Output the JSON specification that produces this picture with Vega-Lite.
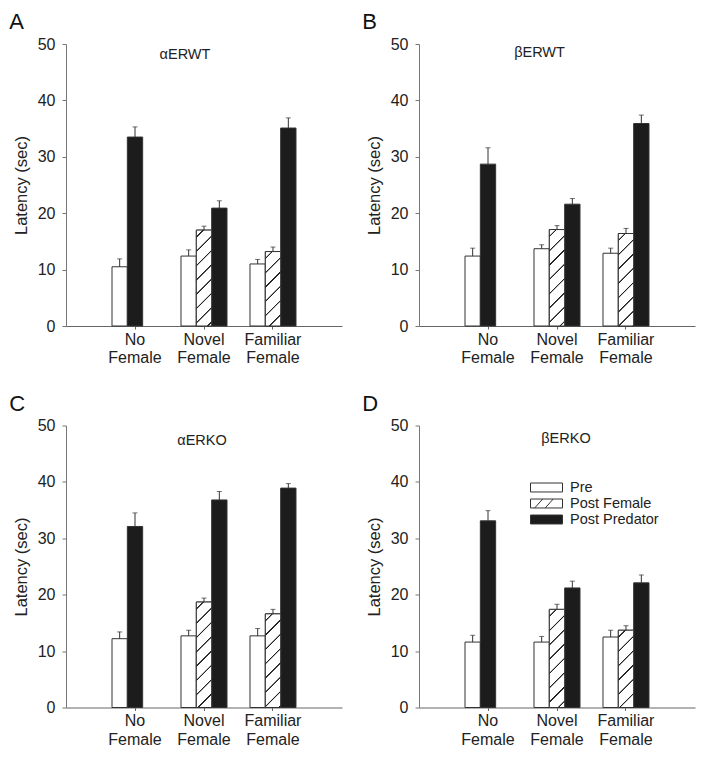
{
  "$schema": "https://vega.github.io/schema/vega-lite/v6.json",
  "padding": {"left": 9, "top": 11, "right": 5, "bottom": 5},
  "config": {
    "font": "Liberation Sans",
    "view": {"stroke": null},
    "title": {"fontSize": 22, "fontWeight": "normal", "anchor": "start", "frame": "bounds", "offset": 2, "dx": -4, "color": "#111"},
    "axisY": {"grid": false, "tickSize": 4, "labelPadding": 7, "domainColor": "#777", "tickColor": "#777", "labelFontSize": 16, "labelColor": "#222", "titleFontSize": 16.5, "titleFontWeight": "normal", "titleColor": "#222", "titlePadding": 8},
    "axisX": {"grid": false, "tickSize": 3, "labelPadding": 2, "labelAngle": 0, "domainColor": "#666", "tickColor": "#666", "labelFontSize": 16, "labelColor": "#222", "labelLineHeight": 18.5, "labelBaseline": "top"}
  },
  "spacing": {"row": 26.5, "column": 20},
  "columns": 2,
  "resolve": {"scale": {"fill": "independent", "shape": "independent"}},
  "datasets": {
    "A": [
      {"cond": "No Female", "series": "Pre", "mean": 10.5, "upper": 11.9},
      {"cond": "No Female", "series": "Post Predator", "mean": 33.5, "upper": 35.3},
      {"cond": "Novel Female", "series": "Pre", "mean": 12.4, "upper": 13.5},
      {"cond": "Novel Female", "series": "Post Female", "mean": 17.0, "upper": 17.7},
      {"cond": "Novel Female", "series": "Post Predator", "mean": 20.9, "upper": 22.2},
      {"cond": "Familiar Female", "series": "Pre", "mean": 11.0, "upper": 11.8},
      {"cond": "Familiar Female", "series": "Post Female", "mean": 13.2, "upper": 14.0},
      {"cond": "Familiar Female", "series": "Post Predator", "mean": 35.1, "upper": 36.9}
    ],
    "B": [
      {"cond": "No Female", "series": "Pre", "mean": 12.4, "upper": 13.8},
      {"cond": "No Female", "series": "Post Predator", "mean": 28.7, "upper": 31.6},
      {"cond": "Novel Female", "series": "Pre", "mean": 13.7, "upper": 14.4},
      {"cond": "Novel Female", "series": "Post Female", "mean": 17.1, "upper": 17.8},
      {"cond": "Novel Female", "series": "Post Predator", "mean": 21.6, "upper": 22.6},
      {"cond": "Familiar Female", "series": "Pre", "mean": 12.9, "upper": 13.8},
      {"cond": "Familiar Female", "series": "Post Female", "mean": 16.4, "upper": 17.3},
      {"cond": "Familiar Female", "series": "Post Predator", "mean": 35.9, "upper": 37.4}
    ],
    "C": [
      {"cond": "No Female", "series": "Pre", "mean": 12.2, "upper": 13.4},
      {"cond": "No Female", "series": "Post Predator", "mean": 32.1, "upper": 34.5},
      {"cond": "Novel Female", "series": "Pre", "mean": 12.7, "upper": 13.7},
      {"cond": "Novel Female", "series": "Post Female", "mean": 18.7, "upper": 19.4},
      {"cond": "Novel Female", "series": "Post Predator", "mean": 36.8, "upper": 38.3},
      {"cond": "Familiar Female", "series": "Pre", "mean": 12.7, "upper": 14.0},
      {"cond": "Familiar Female", "series": "Post Female", "mean": 16.6, "upper": 17.4},
      {"cond": "Familiar Female", "series": "Post Predator", "mean": 38.9, "upper": 39.7}
    ],
    "D": [
      {"cond": "No Female", "series": "Pre", "mean": 11.6, "upper": 12.8},
      {"cond": "No Female", "series": "Post Predator", "mean": 33.1, "upper": 34.9},
      {"cond": "Novel Female", "series": "Pre", "mean": 11.6, "upper": 12.6},
      {"cond": "Novel Female", "series": "Post Female", "mean": 17.4, "upper": 18.3},
      {"cond": "Novel Female", "series": "Post Predator", "mean": 21.2, "upper": 22.4},
      {"cond": "Familiar Female", "series": "Pre", "mean": 12.5, "upper": 13.7},
      {"cond": "Familiar Female", "series": "Post Female", "mean": 13.7, "upper": 14.5},
      {"cond": "Familiar Female", "series": "Post Predator", "mean": 22.1, "upper": 23.5}
    ]
  },
  "concat": [
    {
      "title": {"text": "A"},
      "width": 276, "height": 282,
      "data": {"name": "A"},
      "transform": [{"window": [{"op": "row_number", "as": "slot"}], "groupby": ["cond"]}],
      "layer": [
        {"mark": {"type": "bar", "stroke": "#333", "strokeWidth": 1},
         "encoding": {
           "x": {"field": "cond", "type": "nominal", "title": null, "scale": {"domain": ["No Female", "Novel Female", "Familiar Female"], "paddingInner": 0.3333, "paddingOuter": 0.6667}, "axis": {"labelExpr": "split(datum.label, ' ')", "labelOverlap": false}},
           "xOffset": {"field": "slot", "type": "ordinal", "scale": {"domain": [1, 2, 3], "paddingInner": 0, "paddingOuter": 0}},
           "y": {"field": "mean", "type": "quantitative", "title": "Latency (sec)", "scale": {"domain": [0, 50], "nice": false}, "axis": {"values": [0, 10, 20, 30, 40, 50]}},
           "fill": {"field": "series", "type": "nominal", "scale": {"domain": ["Pre", "Post Female", "Post Predator"], "range": ["#ffffff", "#ffffff", "#1c1c1c"]}, "legend": null}
         }},
        {"transform": [{"filter": "datum.series === 'Post Female'"}],
         "mark": {"type": "bar", "stroke": "#333", "strokeWidth": 1, "fill": {"expr": "{gradient:'linear',x1:0,y1:0,x2:2146.2/(235+pow(datum.mean*5.64,2)),y2:789.6*datum.mean/(235+pow(datum.mean*5.64,2)),stops:[{offset:0,color:'#fff'},{offset:0.04214,color:'#fff'},{offset:0.04643,color:'#222'},{offset:0.05357,color:'#222'},{offset:0.05786,color:'#fff'},{offset:0.14429,color:'#fff'},{offset:0.14857,color:'#222'},{offset:0.15571,color:'#222'},{offset:0.16,color:'#fff'},{offset:0.24643,color:'#fff'},{offset:0.25071,color:'#222'},{offset:0.25786,color:'#222'},{offset:0.26214,color:'#fff'},{offset:0.34857,color:'#fff'},{offset:0.35286,color:'#222'},{offset:0.36,color:'#222'},{offset:0.36429,color:'#fff'},{offset:0.45071,color:'#fff'},{offset:0.455,color:'#222'},{offset:0.46214,color:'#222'},{offset:0.46643,color:'#fff'},{offset:0.55286,color:'#fff'},{offset:0.55714,color:'#222'},{offset:0.56429,color:'#222'},{offset:0.56857,color:'#fff'},{offset:0.655,color:'#fff'},{offset:0.65929,color:'#222'},{offset:0.66643,color:'#222'},{offset:0.67071,color:'#fff'},{offset:0.75714,color:'#fff'},{offset:0.76143,color:'#222'},{offset:0.76857,color:'#222'},{offset:0.77286,color:'#fff'},{offset:0.85929,color:'#fff'},{offset:0.86357,color:'#222'},{offset:0.87071,color:'#222'},{offset:0.875,color:'#fff'},{offset:0.96143,color:'#fff'},{offset:0.96571,color:'#222'},{offset:0.97286,color:'#222'},{offset:0.97714,color:'#fff'},{offset:1,color:'#fff'}]}"}},
         "encoding": {
           "x": {"field": "cond", "type": "nominal", "title": null},
           "xOffset": {"field": "slot", "type": "ordinal"},
           "y": {"field": "mean", "type": "quantitative", "title": "Latency (sec)"}
         }},
        {"mark": {"type": "rule", "color": "#333", "strokeWidth": 1},
         "encoding": {
           "x": {"field": "cond", "type": "nominal", "title": null},
           "xOffset": {"field": "slot", "type": "ordinal"},
           "y": {"field": "mean", "type": "quantitative", "title": "Latency (sec)"},
           "y2": {"field": "upper", "title": "Latency (sec)"}
         }},
        {"mark": {"type": "tick", "color": "#333", "thickness": 1, "size": 5},
         "encoding": {
           "x": {"field": "cond", "type": "nominal", "title": null},
           "xOffset": {"field": "slot", "type": "ordinal"},
           "y": {"field": "upper", "type": "quantitative", "title": "Latency (sec)"}
         }},
        {"data": {"values": [{"genotype": "αERWT"}]},
         "mark": {"type": "text", "fontSize": 14.5, "color": "#222", "dx": -19, "baseline": "middle"},
         "encoding": {
           "x": {"datum": "Novel Female", "type": "nominal", "title": null},
           "y": {"datum": 48, "type": "quantitative", "title": "Latency (sec)"},
           "text": {"field": "genotype", "type": "nominal"}
         }}
      ]
    },
    {
      "title": {"text": "B"},
      "width": 276, "height": 282,
      "data": {"name": "B"},
      "transform": [{"window": [{"op": "row_number", "as": "slot"}], "groupby": ["cond"]}],
      "layer": [
        {"mark": {"type": "bar", "stroke": "#333", "strokeWidth": 1},
         "encoding": {
           "x": {"field": "cond", "type": "nominal", "title": null, "scale": {"domain": ["No Female", "Novel Female", "Familiar Female"], "paddingInner": 0.3333, "paddingOuter": 0.6667}, "axis": {"labelExpr": "split(datum.label, ' ')", "labelOverlap": false}},
           "xOffset": {"field": "slot", "type": "ordinal", "scale": {"domain": [1, 2, 3], "paddingInner": 0, "paddingOuter": 0}},
           "y": {"field": "mean", "type": "quantitative", "title": "Latency (sec)", "scale": {"domain": [0, 50], "nice": false}, "axis": {"values": [0, 10, 20, 30, 40, 50]}},
           "fill": {"field": "series", "type": "nominal", "scale": {"domain": ["Pre", "Post Female", "Post Predator"], "range": ["#ffffff", "#ffffff", "#1c1c1c"]}, "legend": null}
         }},
        {"transform": [{"filter": "datum.series === 'Post Female'"}],
         "mark": {"type": "bar", "stroke": "#333", "strokeWidth": 1, "fill": {"expr": "{gradient:'linear',x1:0,y1:0,x2:2146.2/(235+pow(datum.mean*5.64,2)),y2:789.6*datum.mean/(235+pow(datum.mean*5.64,2)),stops:[{offset:0,color:'#fff'},{offset:0.04214,color:'#fff'},{offset:0.04643,color:'#222'},{offset:0.05357,color:'#222'},{offset:0.05786,color:'#fff'},{offset:0.14429,color:'#fff'},{offset:0.14857,color:'#222'},{offset:0.15571,color:'#222'},{offset:0.16,color:'#fff'},{offset:0.24643,color:'#fff'},{offset:0.25071,color:'#222'},{offset:0.25786,color:'#222'},{offset:0.26214,color:'#fff'},{offset:0.34857,color:'#fff'},{offset:0.35286,color:'#222'},{offset:0.36,color:'#222'},{offset:0.36429,color:'#fff'},{offset:0.45071,color:'#fff'},{offset:0.455,color:'#222'},{offset:0.46214,color:'#222'},{offset:0.46643,color:'#fff'},{offset:0.55286,color:'#fff'},{offset:0.55714,color:'#222'},{offset:0.56429,color:'#222'},{offset:0.56857,color:'#fff'},{offset:0.655,color:'#fff'},{offset:0.65929,color:'#222'},{offset:0.66643,color:'#222'},{offset:0.67071,color:'#fff'},{offset:0.75714,color:'#fff'},{offset:0.76143,color:'#222'},{offset:0.76857,color:'#222'},{offset:0.77286,color:'#fff'},{offset:0.85929,color:'#fff'},{offset:0.86357,color:'#222'},{offset:0.87071,color:'#222'},{offset:0.875,color:'#fff'},{offset:0.96143,color:'#fff'},{offset:0.96571,color:'#222'},{offset:0.97286,color:'#222'},{offset:0.97714,color:'#fff'},{offset:1,color:'#fff'}]}"}},
         "encoding": {
           "x": {"field": "cond", "type": "nominal", "title": null},
           "xOffset": {"field": "slot", "type": "ordinal"},
           "y": {"field": "mean", "type": "quantitative", "title": "Latency (sec)"}
         }},
        {"mark": {"type": "rule", "color": "#333", "strokeWidth": 1},
         "encoding": {
           "x": {"field": "cond", "type": "nominal", "title": null},
           "xOffset": {"field": "slot", "type": "ordinal"},
           "y": {"field": "mean", "type": "quantitative", "title": "Latency (sec)"},
           "y2": {"field": "upper", "title": "Latency (sec)"}
         }},
        {"mark": {"type": "tick", "color": "#333", "thickness": 1, "size": 5},
         "encoding": {
           "x": {"field": "cond", "type": "nominal", "title": null},
           "xOffset": {"field": "slot", "type": "ordinal"},
           "y": {"field": "upper", "type": "quantitative", "title": "Latency (sec)"}
         }},
        {"data": {"values": [{"genotype": "βERWT"}]},
         "mark": {"type": "text", "fontSize": 14.5, "color": "#222", "dx": -17.5, "baseline": "middle"},
         "encoding": {
           "x": {"datum": "Novel Female", "type": "nominal", "title": null},
           "y": {"datum": 48.4, "type": "quantitative", "title": "Latency (sec)"},
           "text": {"field": "genotype", "type": "nominal"}
         }}
      ]
    },
    {
      "title": {"text": "C"},
      "width": 276, "height": 282,
      "data": {"name": "C"},
      "transform": [{"window": [{"op": "row_number", "as": "slot"}], "groupby": ["cond"]}],
      "layer": [
        {"mark": {"type": "bar", "stroke": "#333", "strokeWidth": 1},
         "encoding": {
           "x": {"field": "cond", "type": "nominal", "title": null, "scale": {"domain": ["No Female", "Novel Female", "Familiar Female"], "paddingInner": 0.3333, "paddingOuter": 0.6667}, "axis": {"labelExpr": "split(datum.label, ' ')", "labelOverlap": false}},
           "xOffset": {"field": "slot", "type": "ordinal", "scale": {"domain": [1, 2, 3], "paddingInner": 0, "paddingOuter": 0}},
           "y": {"field": "mean", "type": "quantitative", "title": "Latency (sec)", "scale": {"domain": [0, 50], "nice": false}, "axis": {"values": [0, 10, 20, 30, 40, 50]}},
           "fill": {"field": "series", "type": "nominal", "scale": {"domain": ["Pre", "Post Female", "Post Predator"], "range": ["#ffffff", "#ffffff", "#1c1c1c"]}, "legend": null}
         }},
        {"transform": [{"filter": "datum.series === 'Post Female'"}],
         "mark": {"type": "bar", "stroke": "#333", "strokeWidth": 1, "fill": {"expr": "{gradient:'linear',x1:0,y1:0,x2:2146.2/(235+pow(datum.mean*5.64,2)),y2:789.6*datum.mean/(235+pow(datum.mean*5.64,2)),stops:[{offset:0,color:'#fff'},{offset:0.04214,color:'#fff'},{offset:0.04643,color:'#222'},{offset:0.05357,color:'#222'},{offset:0.05786,color:'#fff'},{offset:0.14429,color:'#fff'},{offset:0.14857,color:'#222'},{offset:0.15571,color:'#222'},{offset:0.16,color:'#fff'},{offset:0.24643,color:'#fff'},{offset:0.25071,color:'#222'},{offset:0.25786,color:'#222'},{offset:0.26214,color:'#fff'},{offset:0.34857,color:'#fff'},{offset:0.35286,color:'#222'},{offset:0.36,color:'#222'},{offset:0.36429,color:'#fff'},{offset:0.45071,color:'#fff'},{offset:0.455,color:'#222'},{offset:0.46214,color:'#222'},{offset:0.46643,color:'#fff'},{offset:0.55286,color:'#fff'},{offset:0.55714,color:'#222'},{offset:0.56429,color:'#222'},{offset:0.56857,color:'#fff'},{offset:0.655,color:'#fff'},{offset:0.65929,color:'#222'},{offset:0.66643,color:'#222'},{offset:0.67071,color:'#fff'},{offset:0.75714,color:'#fff'},{offset:0.76143,color:'#222'},{offset:0.76857,color:'#222'},{offset:0.77286,color:'#fff'},{offset:0.85929,color:'#fff'},{offset:0.86357,color:'#222'},{offset:0.87071,color:'#222'},{offset:0.875,color:'#fff'},{offset:0.96143,color:'#fff'},{offset:0.96571,color:'#222'},{offset:0.97286,color:'#222'},{offset:0.97714,color:'#fff'},{offset:1,color:'#fff'}]}"}},
         "encoding": {
           "x": {"field": "cond", "type": "nominal", "title": null},
           "xOffset": {"field": "slot", "type": "ordinal"},
           "y": {"field": "mean", "type": "quantitative", "title": "Latency (sec)"}
         }},
        {"mark": {"type": "rule", "color": "#333", "strokeWidth": 1},
         "encoding": {
           "x": {"field": "cond", "type": "nominal", "title": null},
           "xOffset": {"field": "slot", "type": "ordinal"},
           "y": {"field": "mean", "type": "quantitative", "title": "Latency (sec)"},
           "y2": {"field": "upper", "title": "Latency (sec)"}
         }},
        {"mark": {"type": "tick", "color": "#333", "thickness": 1, "size": 5},
         "encoding": {
           "x": {"field": "cond", "type": "nominal", "title": null},
           "xOffset": {"field": "slot", "type": "ordinal"},
           "y": {"field": "upper", "type": "quantitative", "title": "Latency (sec)"}
         }},
        {"data": {"values": [{"genotype": "αERKO"}]},
         "mark": {"type": "text", "fontSize": 14.5, "color": "#222", "dx": -2, "baseline": "middle"},
         "encoding": {
           "x": {"datum": "Novel Female", "type": "nominal", "title": null},
           "y": {"datum": 47.2, "type": "quantitative", "title": "Latency (sec)"},
           "text": {"field": "genotype", "type": "nominal"}
         }}
      ]
    },
    {
      "title": {"text": "D"},
      "width": 276, "height": 282,
      "data": {"name": "D"},
      "transform": [{"window": [{"op": "row_number", "as": "slot"}], "groupby": ["cond"]}],
      "layer": [
        {"mark": {"type": "bar", "stroke": "#333", "strokeWidth": 1},
         "encoding": {
           "x": {"field": "cond", "type": "nominal", "title": null, "scale": {"domain": ["No Female", "Novel Female", "Familiar Female"], "paddingInner": 0.3333, "paddingOuter": 0.6667}, "axis": {"labelExpr": "split(datum.label, ' ')", "labelOverlap": false}},
           "xOffset": {"field": "slot", "type": "ordinal", "scale": {"domain": [1, 2, 3], "paddingInner": 0, "paddingOuter": 0}},
           "y": {"field": "mean", "type": "quantitative", "title": "Latency (sec)", "scale": {"domain": [0, 50], "nice": false}, "axis": {"values": [0, 10, 20, 30, 40, 50]}},
           "fill": {"field": "series", "type": "nominal", "scale": {"domain": ["Pre", "Post Female", "Post Predator"], "range": ["#ffffff", "#ffffff", "#1c1c1c"]},
                    "legend": {"orient": "none", "legendX": 111, "legendY": 54, "title": null, "symbolSize": 1024, "clipHeight": 16, "labelOffset": 7, "labelFontSize": 14.5, "labelColor": "#222", "rowPadding": 0, "padding": 0, "symbolStrokeWidth": 1, "symbolStrokeColor": "#333"}}
         }},
        {"transform": [{"filter": "datum.series === 'Post Female'"}],
         "mark": {"type": "bar", "stroke": "#333", "strokeWidth": 1, "fill": {"expr": "{gradient:'linear',x1:0,y1:0,x2:2146.2/(235+pow(datum.mean*5.64,2)),y2:789.6*datum.mean/(235+pow(datum.mean*5.64,2)),stops:[{offset:0,color:'#fff'},{offset:0.04214,color:'#fff'},{offset:0.04643,color:'#222'},{offset:0.05357,color:'#222'},{offset:0.05786,color:'#fff'},{offset:0.14429,color:'#fff'},{offset:0.14857,color:'#222'},{offset:0.15571,color:'#222'},{offset:0.16,color:'#fff'},{offset:0.24643,color:'#fff'},{offset:0.25071,color:'#222'},{offset:0.25786,color:'#222'},{offset:0.26214,color:'#fff'},{offset:0.34857,color:'#fff'},{offset:0.35286,color:'#222'},{offset:0.36,color:'#222'},{offset:0.36429,color:'#fff'},{offset:0.45071,color:'#fff'},{offset:0.455,color:'#222'},{offset:0.46214,color:'#222'},{offset:0.46643,color:'#fff'},{offset:0.55286,color:'#fff'},{offset:0.55714,color:'#222'},{offset:0.56429,color:'#222'},{offset:0.56857,color:'#fff'},{offset:0.655,color:'#fff'},{offset:0.65929,color:'#222'},{offset:0.66643,color:'#222'},{offset:0.67071,color:'#fff'},{offset:0.75714,color:'#fff'},{offset:0.76143,color:'#222'},{offset:0.76857,color:'#222'},{offset:0.77286,color:'#fff'},{offset:0.85929,color:'#fff'},{offset:0.86357,color:'#222'},{offset:0.87071,color:'#222'},{offset:0.875,color:'#fff'},{offset:0.96143,color:'#fff'},{offset:0.96571,color:'#222'},{offset:0.97286,color:'#222'},{offset:0.97714,color:'#fff'},{offset:1,color:'#fff'}]}"}},
         "encoding": {
           "x": {"field": "cond", "type": "nominal", "title": null},
           "xOffset": {"field": "slot", "type": "ordinal"},
           "y": {"field": "mean", "type": "quantitative", "title": "Latency (sec)"}
         }},
        {"mark": {"type": "rule", "color": "#333", "strokeWidth": 1},
         "encoding": {
           "x": {"field": "cond", "type": "nominal", "title": null},
           "xOffset": {"field": "slot", "type": "ordinal"},
           "y": {"field": "mean", "type": "quantitative", "title": "Latency (sec)"},
           "y2": {"field": "upper", "title": "Latency (sec)"}
         }},
        {"mark": {"type": "tick", "color": "#333", "thickness": 1, "size": 5},
         "encoding": {
           "x": {"field": "cond", "type": "nominal", "title": null},
           "xOffset": {"field": "slot", "type": "ordinal"},
           "y": {"field": "upper", "type": "quantitative", "title": "Latency (sec)"}
         }},
        {"data": {"values": [{"genotype": "βERKO"}]},
         "mark": {"type": "text", "fontSize": 14.5, "color": "#222", "dx": 9, "baseline": "middle"},
         "encoding": {
           "x": {"datum": "Novel Female", "type": "nominal", "title": null},
           "y": {"datum": 47.6, "type": "quantitative", "title": "Latency (sec)"},
           "text": {"field": "genotype", "type": "nominal"}
         }},
        {"mark": {"type": "point", "filled": true, "stroke": "#333", "strokeWidth": 1, "opacity": 1, "size": 0},
         "encoding": {
           "x": {"field": "cond", "type": "nominal", "title": null},
           "y": {"field": "mean", "type": "quantitative", "title": "Latency (sec)"},
           "fill": {"field": "series", "type": "nominal", "scale": {"domain": ["Pre", "Post Female", "Post Predator"], "range": ["#ffffff", "#ffffff", "#1c1c1c"]},
                    "legend": {"orient": "none", "legendX": 111, "legendY": 54, "title": null, "symbolSize": 1024, "clipHeight": 16, "labelOffset": 7, "labelFontSize": 14.5, "labelColor": "#222", "rowPadding": 0, "padding": 0, "symbolStrokeWidth": 1, "symbolStrokeColor": "#333"}},
           "shape": {"field": "series", "type": "nominal", "scale": {"domain": ["Pre", "Post Female", "Post Predator"], "range": ["M-1,-0.28H1V0.28H-1Z", "M-1,-0.28H1V0.28H-1Z M-0.74,0.28L-0.24,-0.28 M-0.08,0.28L0.42,-0.28", "M-1,-0.28H1V0.28H-1Z"]},
                    "legend": {"orient": "none", "legendX": 111, "legendY": 54, "title": null, "symbolSize": 1024, "clipHeight": 16, "labelOffset": 7, "labelFontSize": 14.5, "labelColor": "#222", "rowPadding": 0, "padding": 0, "symbolStrokeWidth": 1, "symbolStrokeColor": "#333"}}
         }}
      ]
    }
  ]
}
